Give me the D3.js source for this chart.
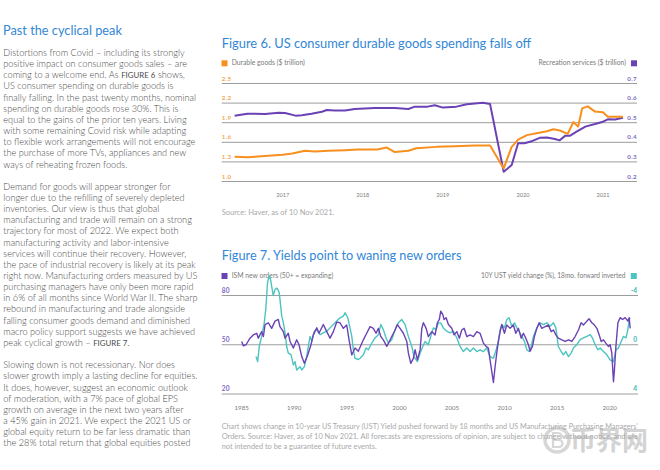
<!DOCTYPE html>
<html><head><meta charset="utf-8">
<script src="https://cdn.jsdelivr.net/npm/d3@7"></script>
<style>html,body{margin:0;padding:0;background:#fff}svg{display:block}</style>
</head><body>
<svg id="c" width="660" height="470"></svg>
<script>
// ---------------- DATA ----------------
const pageTitle = "Past the cyclical peak";
const paragraph1 = [
 "Distortions from Covid – including its strongly",
 "positive impact on consumer goods sales – are",
 "coming to a welcome end. As FIGURE 6 shows,",
 "US consumer spending on durable goods is",
 "finally falling. In the past twenty months, nominal",
 "spending on durable goods rose 30%. This is",
 "equal to the gains of the prior ten years. Living",
 "with some remaining Covid risk while adapting",
 "to flexible work arrangements will not encourage",
 "the purchase of more TVs, appliances and new",
 "ways of reheating frozen foods."];
const paragraph2 = [
 "Demand for goods will appear stronger for",
 "longer due to the refilling of severely depleted",
 "inventories. Our view is thus that global",
 "manufacturing and trade will remain on a strong",
 "trajectory for most of 2022. We expect both",
 "manufacturing activity and labor-intensive",
 "services will continue their recovery. However,",
 "the pace of industrial recovery is likely at its peak",
 "right now. Manufacturing orders measured by US",
 "purchasing managers have only been more rapid",
 "in 6% of all months since World War II. The sharp",
 "rebound in manufacturing and trade alongside",
 "falling consumer goods demand and diminished",
 "macro policy support suggests we have achieved",
 "peak cyclical growth – FIGURE 7."];
const paragraph3 = [
 "Slowing down is not recessionary. Nor does",
 "slower growth imply a lasting decline for equities.",
 "It does, however, suggest an economic outlook",
 "of moderation, with a 7% pace of global EPS",
 "growth on average in the next two years after",
 "a 45% gain in 2021. We expect the 2021 US or",
 "global equity return to be far less dramatic than",
 "the 28% total return that global equities posted"];

const fig6Title = "Figure 6. US consumer durable goods spending falls off";
const fig6LegendLeft = "Durable goods ($ trillion)";
const fig6LegendRight = "Recreation services ($ trillion)";
const fig6Source = "Source: Haver, as of 10 Nov 2021.";
const fig6Years = [2017, 2018, 2019, 2020, 2021];
const durableTicks = [1.0, 1.3, 1.6, 1.9, 2.2, 2.5];
const recreationTicks = [0.2, 0.3, 0.4, 0.5, 0.6, 0.7];
// [decimal year, $ trillion]
const durableGoods = [
 [2016.90,1.38],[2017.06,1.37],[2017.28,1.39],[2017.50,1.41],[2017.62,1.43],[2017.78,1.47],
 [2017.90,1.46],[2018.07,1.47],[2018.28,1.48],[2018.44,1.49],[2018.68,1.49],[2018.80,1.52],
 [2018.90,1.45],[2019.07,1.47],[2019.17,1.51],[2019.42,1.53],[2019.65,1.54],[2019.90,1.55],
 [2020.09,1.55],[2020.26,1.20],[2020.36,1.53],[2020.44,1.64],[2020.55,1.71],[2020.67,1.74],
 [2020.80,1.77],[2020.88,1.80],[2020.96,1.78],[2021.06,1.73],[2021.13,1.91],[2021.19,1.84],
 [2021.24,2.12],[2021.31,2.15],[2021.40,2.07],[2021.50,2.06],[2021.56,1.99],[2021.68,1.99],
 [2021.75,1.99]];
const recreationServices = [
 [2016.90,0.536],[2016.98,0.541],[2017.06,0.546],[2017.28,0.545],[2017.45,0.551],[2017.53,0.549],
 [2017.66,0.536],[2017.74,0.538],[2017.86,0.546],[2017.99,0.556],[2018.05,0.565],[2018.15,0.562],
 [2018.28,0.562],[2018.40,0.570],[2018.65,0.575],[2018.90,0.575],[2019.07,0.570],[2019.15,0.582],
 [2019.31,0.582],[2019.40,0.589],[2019.50,0.577],[2019.67,0.582],[2019.80,0.594],[2020.00,0.602],
 [2020.09,0.595],[2020.26,0.250],[2020.36,0.284],[2020.44,0.395],[2020.52,0.395],[2020.62,0.407],
 [2020.71,0.423],[2020.80,0.424],[2020.90,0.417],[2020.96,0.410],[2021.03,0.434],[2021.09,0.434],
 [2021.17,0.454],[2021.28,0.480],[2021.40,0.493],[2021.50,0.505],[2021.56,0.517],[2021.65,0.516],
 [2021.75,0.525]];

const fig7Title = "Figure 7. Yields point to waning new orders";
const fig7LegendLeft = "ISM new orders (50+ = expanding)";
const fig7LegendRight = "10Y UST yield change (%), 18mo. forward inverted";
const fig7Years = [1985, 1990, 1995, 2000, 2005, 2010, 2015, 2020];
const ismTicks = [80, 50, 20];
const ustTicks = [-4, 0, 4];
const ustTickLabels = ["-4", "0", "4"];
const fig7Note = [
 "Chart shows change in 10-year US Treasury (UST) Yield pushed forward by 18 months and US Manufacturing Purchasing Managers'",
 "Orders. Source: Haver, as of 10 Nov 2021. All forecasts are expressions of opinion, are subject to change without notice, and are",
 "not intended to be a guarantee of future events."];
const watermarkText = "币界网";
// [decimal year, index]
const ismNewOrders = [
 [1985.00,52],[1985.15,49.4],[1985.41,50],[1985.79,54],[1986.10,56],[1986.43,57],[1986.58,54],[1986.90,58],[1987.06,55],[1987.22,62.3],
 [1987.53,63.4],[1987.85,60],[1988.17,64.4],[1988.48,65.4],[1988.64,61],[1988.96,58],[1989.12,54],[1989.43,57],[1989.60,52],[1989.91,48],
 [1990.23,53],[1990.45,50],[1990.71,42.8],[1990.96,38.7],[1991.28,43.8],[1991.59,50],[1991.81,56],[1992.14,60.3],[1992.35,57],[1992.76,62.3],
 [1993.09,58],[1993.40,54],[1993.72,58],[1994.04,63.8],[1994.35,63.4],[1994.67,60],[1994.99,62],[1995.21,53],[1995.47,43.8],[1995.78,48],
 [1996.09,46],[1996.57,53],[1996.89,57],[1997.21,61],[1997.52,60],[1997.78,57],[1998.00,60],[1998.23,55],[1998.47,53],[1998.80,49],
 [1999.04,52],[1999.27,55],[1999.59,59],[1999.80,62.3],[2000.06,60],[2000.38,57],[2000.70,52],[2000.85,45],[2001.08,38.7],[2001.33,41.7],
 [2001.49,47],[2001.71,40.8],[2001.97,47],[2002.13,60],[2002.28,63.4],[2002.54,60],[2002.75,55],[2003.08,58],[2003.39,56],[2003.61,63.4],
 [2003.80,65.4],[2003.93,70.5],[2004.12,68.5],[2004.25,65.4],[2004.44,66.5],[2004.66,62.3],[2004.98,60],[2005.20,56],[2005.46,58],[2005.70,54],
 [2005.93,59],[2006.15,60],[2006.41,55],[2006.72,56],[2007.04,55],[2007.36,58],[2007.67,57],[2007.99,51],[2008.24,49],[2008.46,48],
 [2008.62,40.8],[2008.79,33.5],[2008.94,27],[2009.10,36.6],[2009.26,45],[2009.41,52],[2009.58,58],[2009.74,62.3],[2009.99,57],[2010.21,62],
 [2010.53,60],[2010.84,62],[2011.07,57],[2011.32,60],[2011.58,54],[2011.79,57],[2012.02,54],[2012.27,50],[2012.43,46],[2012.65,49],
 [2012.84,55],[2013.07,60],[2013.29,63.4],[2013.54,60],[2013.86,61],[2014.17,62],[2014.43,58],[2014.65,59],[2014.88,56],[2015.12,54],
 [2015.45,53],[2015.76,52],[2016.08,53],[2016.40,52],[2016.71,55],[2017.03,59],[2017.28,63.4],[2017.50,62],[2017.83,64.4],[2018.05,65.8],
 [2018.30,63.4],[2018.55,62],[2018.78,60],[2019.00,56],[2019.19,52],[2019.41,53],[2019.63,51],[2019.88,49],[2020.04,50],[2020.20,45],
 [2020.36,27.5],[2020.45,34.6],[2020.59,49],[2020.78,63.4],[2021.00,66.5],[2021.22,65.4],[2021.47,66.5],[2021.73,64.4],[2021.85,66.5],[2021.95,60]];
// [decimal year, % change (inverted axis)]
const ustYieldChange = [
 [1986.36,0.96],[1986.52,1.37],[1986.67,0.14],[1986.90,-0.68],[1987.15,-1.8],[1987.30,-3.0],[1987.45,-5.0],[1987.60,-5.6],[1987.75,-5.3],[1987.88,-4.6],
 [1988.00,-4.0],[1988.17,-4.5],[1988.36,-4.6],[1988.55,-4.3],[1988.64,-3.7],[1988.81,-2.3],[1988.96,-1.8],[1989.12,-0.96],[1989.28,0.14],[1989.43,0.68],
 [1989.69,0.8],[1989.91,1.64],[1990.07,1.37],[1990.23,2.05],[1990.55,1.78],[1990.71,2.05],[1990.96,1.78],[1991.18,0.96],[1991.34,0.14],[1991.50,-0.68],
 [1991.66,-0.3],[1991.91,-1.1],[1992.14,-1.23],[1992.45,-0.82],[1992.76,-0.96],[1993.09,-1.1],[1993.40,-1.37],[1993.72,-1.64],[1994.04,-1.92],[1994.35,-2.19],
 [1994.67,-2.33],[1994.83,-2.6],[1995.09,-2.19],[1995.30,-1.37],[1995.47,-0.68],[1995.62,0.41],[1995.78,1.1],[1996.09,1.2],[1996.26,1.1],[1996.57,0.82],
 [1996.83,0.27],[1997.05,0.41],[1997.37,-0.14],[1997.68,-0.55],[1998.00,-0.82],[1998.23,-1.64],[1998.47,-1.23],[1998.73,-0.55],[1998.95,-0.14],[1999.27,-0.41],
 [1999.59,-1.23],[1999.90,-1.78],[2000.22,-2.05],[2000.54,-1.64],[2000.85,-0.68],[2001.18,0.14],[2001.39,0.96],[2001.71,1.37],[2001.97,0.68],[2002.22,0.14],
 [2002.44,-0.27],[2002.75,0],[2002.98,-0.68],[2003.23,-1.37],[2003.49,-1.23],[2003.71,-1.78],[2003.93,-1.78],[2004.18,-1.37],[2004.51,-1.1],[2004.82,-0.96],
 [2005.13,-1.1],[2005.46,-0.55],[2005.77,0.14],[2006.08,0.55],[2006.41,0.27],[2006.72,0.55],[2007.04,0.27],[2007.36,0.55],[2007.67,0.41],[2007.99,0.55],
 [2008.31,0.27],[2008.62,0.96],[2008.94,1.1],[2009.20,0.41],[2009.41,-0.27],[2009.58,-1.23],[2009.74,-1.64],[2009.99,-1.37],[2010.21,-2.05],[2010.43,-2.19],
 [2010.69,-1.5],[2010.94,-1.78],[2011.17,-1.37],[2011.38,-1.1],[2011.64,-0.68],[2011.89,-0.27],[2012.12,0.41],[2012.34,0.55],[2012.53,0.14],[2012.75,-0.68],
 [2013.07,-1.37],[2013.38,-1.78],[2013.70,-1.64],[2014.02,-1.78],[2014.33,-1.5],[2014.65,-1.78],[2014.88,-1.37],[2015.12,0.14],[2015.38,0.55],[2015.60,0.82],
 [2015.83,0.55],[2016.08,0.96],[2016.33,0.68],[2016.55,0.27],[2016.87,0],[2017.19,-0.41],[2017.50,-0.55],[2017.83,-0.68],[2018.14,-0.82],[2018.36,-0.55],
 [2018.62,0],[2018.87,0.41],[2019.09,0.27],[2019.41,0.55],[2019.73,0.82],[2020.04,1.23],[2020.36,1.37],[2020.59,0.41],[2020.83,0.27],[2021.09,-0.27],
 [2021.31,-0.68],[2021.54,-0.55],[2021.73,-1.23],[2021.85,-2.05],[2021.95,-2.19]];

// ---------------- STYLE ----------------
const FONT = "Lato, 'Open Sans', 'Liberation Sans', sans-serif";
const BLUE = "#3287d6", ORANGE = "#f7901e", PURPLE = "#6b42b5", TEAL = "#4cc4c0";
const GRID = "#9c9c9c", BODY = "#4a4a4a", NOTE = "#a9a9a9";

const svg = d3.select("#c");
svg.append("rect").attr("width", 660).attr("height", 470).attr("fill", "#fff");

function fitWidth(sel, w) {
  const L = sel.node().getComputedTextLength();
  const fs = parseFloat(sel.attr("font-size"));
  sel.attr("font-size", (fs * w / L).toFixed(3));
  return sel;
}
function addText(g, str, x, y, size, color, anchor, weight) {
  return g.append("text").attr("x", x).attr("y", y).attr("font-size", size)
    .attr("font-family", FONT).attr("fill", color)
    .attr("text-anchor", anchor || "start").attr("font-weight", weight || 400).text(str);
}

// ---------------- LEFT COLUMN ----------------
const left = svg.append("g");
fitWidth(addText(left, pageTitle, 3, 35, 14, BLUE), 119);

const bodyG = left.append("g").attr("font-family", FONT).attr("fill", BODY)
  .attr("font-size", 8).attr("font-weight", 300);
const LH = 11.15, first = 56;
const flow = [];
paragraph1.forEach((s, i) => flow.push([s, i]));
paragraph2.forEach((s, i) => flow.push([s, 12 + i]));
paragraph3.forEach((s, i) => flow.push([s, 28 + i]));
let refLine = null;
flow.forEach(([s, idx]) => {
  const t = bodyG.append("text").attr("x", 3.3).attr("y", first + idx * LH);
  s.split(/(FIGURE \d\.?)/).forEach(part => {
    if (!part) return;
    const ts = t.append("tspan").text(part);
    if (/^FIGURE/.test(part)) ts.attr("font-size", "0.86em").attr("font-weight", 400);
  });
  if (s.startsWith("finally falling")) refLine = t;
});
{
  const L = refLine.node().getComputedTextLength();
  bodyG.attr("font-size", (8 * 193 / L).toFixed(3));
}

// ---------------- FIGURE 6 ----------------
const f6 = svg.append("g");
fitWidth(addText(f6, fig6Title, 221.7, 47.6, 11.5, BLUE), 310);

const x6 = d3.scaleLinear().domain([2016.917, 2021.75]).range([236, 623]);
const yDur = d3.scaleLinear().domain([1.0, 2.5]).range([181.5, 83.5]);
const yRec = d3.scaleLinear().domain([0.2, 0.7]).range([181.5, 83.5]);

f6.append("rect").attr("x", 221.5).attr("y", 60.3).attr("width", 6).attr("height", 6).attr("fill", ORANGE);
fitWidth(addText(f6, fig6LegendLeft, 231.7, 65.4, 6, "#7a7a7a"), 73.3);
f6.append("rect").attr("x", 631).attr("y", 60.3).attr("width", 6).attr("height", 6).attr("fill", PURPLE);
fitWidth(addText(f6, fig6LegendRight, 626, 65.4, 6, "#7a7a7a", "end"), 87.7);

f6.selectAll("line.grid").data(durableTicks).join("line")
  .attr("x1", 221.7).attr("x2", 637).attr("y1", d => yDur(d)).attr("y2", d => yDur(d))
  .attr("stroke", GRID).attr("stroke-width", 1);
f6.selectAll("text.yl").data(durableTicks).join("text")
  .attr("x", 221.7).attr("y", d => yDur(d) - 3).attr("font-size", 6.2).attr("font-weight", 700)
  .attr("font-family", FONT).attr("fill", "#f6a552").attr("letter-spacing", 0.4)
  .text(d => d.toFixed(1));
f6.selectAll("text.yr").data(recreationTicks).join("text")
  .attr("x", 637).attr("y", d => yRec(d) - 3).attr("text-anchor", "end").attr("font-size", 6.2)
  .attr("font-weight", 700).attr("font-family", FONT).attr("fill", "#8068c8").attr("letter-spacing", 0.4)
  .text(d => d.toFixed(1));
f6.selectAll("text.x").data(fig6Years).join("text")
  .attr("x", d => x6(d + 0.5)).attr("y", 197).attr("text-anchor", "middle").attr("font-size", 5.6)
  .attr("font-family", FONT).attr("fill", "#7d7d7d").text(d => d);

const line6r = d3.line().x(d => x6(d[0])).y(d => yRec(d[1]));
const line6d = d3.line().x(d => x6(d[0])).y(d => yDur(d[1]));
f6.append("path").attr("d", line6r(recreationServices)).attr("fill", "none")
  .attr("stroke", PURPLE).attr("stroke-width", 2).attr("stroke-linejoin", "round");
f6.append("path").attr("d", line6d(durableGoods)).attr("fill", "none")
  .attr("stroke", ORANGE).attr("stroke-width", 2).attr("stroke-linejoin", "round");

fitWidth(addText(f6, fig6Source, 221.7, 215.2, 7, NOTE), 113);

// ---------------- FIGURE 7 ----------------
const f7 = svg.append("g");
fitWidth(addText(f7, fig7Title, 221.7, 259.9, 11.5, BLUE), 240);

const x7 = d3.scaleLinear().domain([1985, 2020]).range([241.7, 609.7]);
const yIsm = d3.scaleLinear().domain([20, 80]).range([394, 295.5]);
const yUst = d3.scaleLinear().domain([4, -4]).range([394, 295.5]);

f7.append("rect").attr("x", 221.5).attr("y", 273).attr("width", 6).attr("height", 6).attr("fill", PURPLE);
fitWidth(addText(f7, fig7LegendLeft, 231.7, 278.2, 6, "#7a7a7a"), 101.6);
f7.append("rect").attr("x", 630.8).attr("y", 273).attr("width", 6).attr("height", 6).attr("fill", TEAL);
fitWidth(addText(f7, fig7LegendRight, 625.5, 278.2, 6, "#7a7a7a", "end"), 145);

f7.selectAll("line.grid").data(ismTicks).join("line")
  .attr("x1", 221.7).attr("x2", 638).attr("y1", d => yIsm(d)).attr("y2", d => yIsm(d))
  .attr("stroke", GRID).attr("stroke-width", 1);
f7.selectAll("text.yl").data(ismTicks).join("text")
  .attr("x", 221.7).attr("y", d => yIsm(d) - 2.8).attr("font-size", 6.6).attr("font-weight", 700)
  .attr("font-family", FONT).attr("fill", "#8068c8").attr("letter-spacing", 0.3).text(d => d);
f7.selectAll("text.yr").data(ustTicks).join("text")
  .attr("x", 637).attr("y", d => yUst(d) - 2.8).attr("text-anchor", "end").attr("font-size", 6.6)
  .attr("font-weight", 700).attr("font-family", FONT).attr("fill", "#3db9b5")
  .text((d, i) => ustTickLabels[i]);
f7.selectAll("text.x").data(fig7Years).join("text")
  .attr("x", d => x7(d)).attr("y", 410).attr("text-anchor", "middle").attr("font-size", 6.2)
  .attr("font-family", FONT).attr("fill", "#7d7d7d").text(d => d);

const line7u = d3.line().x(d => x7(d[0])).y(d => yUst(d[1]));
const line7i = d3.line().x(d => x7(d[0])).y(d => yIsm(d[1]));
f7.append("path").attr("d", line7u(ustYieldChange)).attr("fill", "none")
  .attr("stroke", TEAL).attr("stroke-width", 1.4).attr("stroke-linejoin", "round");
f7.append("path").attr("d", line7i(ismNewOrders)).attr("fill", "none")
  .attr("stroke", PURPLE).attr("stroke-width", 1.4).attr("stroke-linejoin", "round");

const noteW = [416, 416, 155];
fig7Note.forEach((s, i) => fitWidth(addText(f7, s, 221.7, 429.2 + i * 10, 6.8, NOTE), noteW[i]));

// watermark (semi-transparent, as in the reference)
const wm = svg.append("g").attr("opacity", 0.5);
wm.append("circle").attr("cx", 557).attr("cy", 440).attr("r", 12).attr("fill", "none")
  .attr("stroke", "#b0b0b0").attr("stroke-width", 3.5);
wm.append("path").attr("d", "M553,433 h5 a3.5,3.5 0 0 1 0,7 h-5 z M553,440 h6 a3.5,3.5 0 0 1 0,7 h-6 z")
  .attr("fill", "none").attr("stroke", "#b0b0b0").attr("stroke-width", 2.2);
wm.append("text").attr("x", 570).attr("y", 450).attr("font-size", 26).attr("font-weight", 700)
  .attr("font-family", "'Noto Sans CJK SC', sans-serif").attr("fill", "#a8a8a8").text(watermarkText);
</script>
</body></html>
